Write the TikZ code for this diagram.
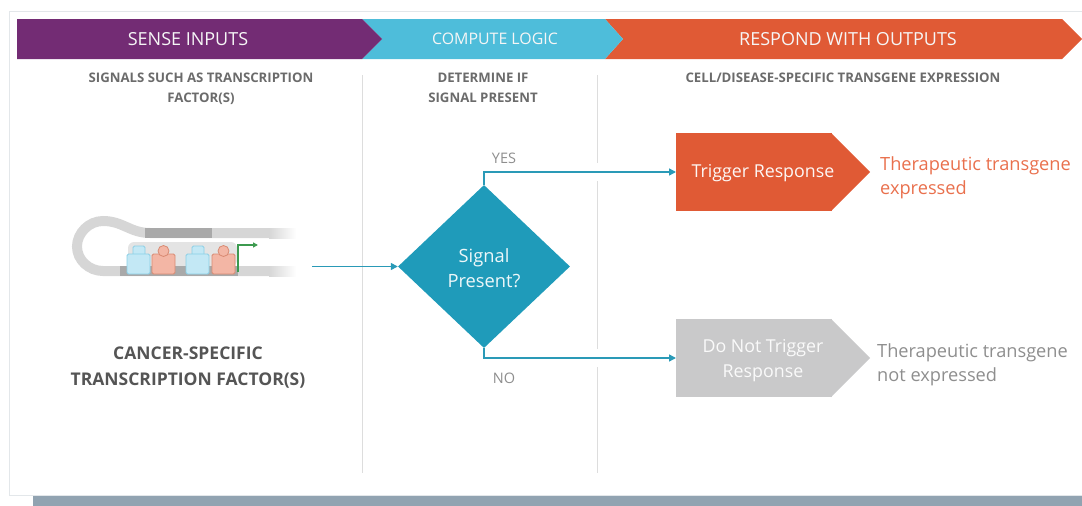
\documentclass[tikz,border=0pt]{standalone}
\usepackage{fontspec}
\setmainfont{Open Sans}
\usetikzlibrary{shapes.geometric,arrows.meta}
\definecolor{purp}{HTML}{732C74}
\definecolor{cyanH}{HTML}{4EBDDA}
\definecolor{orangeH}{HTML}{E05A35}
\definecolor{tealC}{HTML}{2A9AB7}
\definecolor{diaC}{HTML}{1F9BBA}
\definecolor{grayBox}{HTML}{C9C9CA}
\definecolor{orangeTxt}{HTML}{E9704D}
\definecolor{grayTxt}{HTML}{8E8E8E}
\definecolor{subTxt}{HTML}{6B6B6B}
\definecolor{darkTxt}{HTML}{555555}
\definecolor{divC}{HTML}{DDDDDD}
\definecolor{barGray}{HTML}{91A3B1}
\definecolor{borderC}{HTML}{E3E7EA}
\definecolor{strandC}{HTML}{D6D6D6}
\definecolor{strandD}{HTML}{A9A9A9}
\definecolor{platC}{HTML}{E4E4E4}
\definecolor{blueF}{HTML}{C3E8F5}
\definecolor{blueD}{HTML}{8ACFE6}
\definecolor{redF}{HTML}{F3B6A5}
\definecolor{redD}{HTML}{D98A72}
\definecolor{greenC}{HTML}{3C9A4F}
\tikzset{
  headtxt/.style={text=white!93!gray, font=\fontsize{18}{21}\selectfont, inner sep=0},
  subtxt/.style={text=subTxt, font=\bfseries\fontsize{13.2}{19.5}\selectfont, align=center, inner sep=0},
  divider/.style={draw=divC, line width=1},
  conn/.style={draw=tealC, line width=1.4, -{Triangle[length=7pt,width=7pt]}},
  lbl/.style={text=grayTxt, font=\fontsize{14.5}{17}\selectfont, inner sep=0},
  boxtxt/.style={font=\fontsize{17.8}{25}\selectfont, align=center, inner sep=0},
  sidetxt/.style={font=\fontsize{18.2}{24}\selectfont, align=left, inner sep=0, anchor=west},
  strand/.style={draw=strandC, line width=10},
  bluep/.style={fill=blueF, draw=blueD, line width=0.8, rounded corners=1.5},
  redp/.style={fill=redF, draw=redD, line width=0.8, rounded corners=1.5}
}
\begin{document}
\begin{tikzpicture}[x=1pt,y=-1pt]
\useasboundingbox (0,0) rectangle (1082,506);
% frame
\draw[borderC, line width=1] (1082,11) -- (9,11) -- (9,495) -- (1082,495);
\fill[barGray] (33,496) rectangle (1082,506);
% banners
\fill[orangeH] (605,19) -- (1062,19) -- (1082,39) -- (1062,59) -- (605,59) -- (623,39) -- cycle;
\fill[cyanH] (362,19) -- (605,19) -- (623,39) -- (605,59) -- (362,59) -- (382,39) -- cycle;
\fill[purp] (17,19) -- (362,19) -- (382,39) -- (362,59) -- (17,59) -- cycle;
\node[headtxt] (h1) at (188,39) {SENSE INPUTS};
\node[headtxt, font=\fontsize{15.9}{19}\selectfont] (h2) at (495,39) {COMPUTE LOGIC};
\node[headtxt] (h3) at (848,39) {RESPOND WITH OUTPUTS};
% subtitles
\node[subtxt, anchor=north] (s1) at (201,73) {SIGNALS SUCH AS TRANSCRIPTION\\FACTOR(S)};
\node[subtxt, anchor=north] (s2) at (483,73) {DETERMINE IF\\SIGNAL PRESENT};
\node[subtxt, anchor=north] (s3) at (843,73) {CELL/DISEASE-SPECIFIC TRANSGENE EXPRESSION};
% dividers
\draw[divider] (362,75) -- (362,473);
\draw[divider] (597,75) -- (597,163);
\draw[divider] (597,181) -- (597,349);
\draw[divider] (597,367) -- (597,473);
% DNA hairpin
\draw[strand] (270,233) -- (150,233) .. controls (130,233) and (123,221) .. (103,221)
  .. controls (89,221) and (77,233) .. (77,246.5)
  .. controls (77,260) and (89,271) .. (103,271) -- (270,271);
\shade[left color=strandC, right color=white] (269,228) rectangle (296,238);
\shade[left color=strandC, right color=white] (269,266) rectangle (296,276);
\fill[strandD] (145,228) rectangle (212,238);
\fill[platC, rounded corners=6] (128,266) -- (128,242) -- (237,242) -- (237,266) -- cycle;
\fill[strandD] (120,266) rectangle (238,276);
\draw[bluep] (133,246) rectangle (145,256);
\draw[bluep] (127,254) rectangle (150,274);
\draw[redp] (152,254) rectangle (175,274);
\draw[redp, rounded corners=0] (163.5,251) circle (5.5);
\draw[bluep] (192,246) rectangle (204,256);
\draw[bluep] (186,254) rectangle (209,274);
\draw[redp] (212,254) rectangle (235,274);
\draw[redp, rounded corners=0] (223.5,251) circle (5.5);
\draw[greenC, line width=1.3, -{Triangle[length=5pt,width=5pt]}] (238,272) -- (238,245) -- (258,245);
\node[text=darkTxt, font=\bfseries\fontsize{17.5}{26}\selectfont, align=center, inner sep=0] (tf) at (188,368) {CANCER-SPECIFIC\\TRANSCRIPTION FACTOR(S)};
% diamond and boxes
\node[diamond, fill=diaC, minimum width=172, minimum height=163, inner sep=0] (dia) at (484,266.5) {};
\node[text=white!92!diaC, font=\fontsize{18.3}{25}\selectfont, align=center, inner sep=0] (diat) at (484,268.5) {Signal\\Present?};
\node[fill=orangeH, minimum width=156, minimum height=78, inner sep=0, anchor=west] (trig) at (676,172) {};
\fill[orangeH] ([xshift=-1.5pt]trig.north east) -- (870,172) -- ([xshift=-1.5pt]trig.south east) -- cycle;
\node[boxtxt, text=white!95!orangeH] (trigt) at (763,173.5) {Trigger Response};
\node[fill=grayBox, minimum width=156, minimum height=78, inner sep=0, anchor=west] (notrig) at (676,358) {};
\fill[grayBox] ([xshift=-1.5pt]notrig.north east) -- (870,358) -- ([xshift=-1.5pt]notrig.south east) -- cycle;
\node[boxtxt, text=white!90!grayBox] (notrigt) at (763,360.5) {Do Not Trigger\\Response};
\node[sidetxt, text=orangeTxt] (yt) at (880,178) {Therapeutic transgene\\expressed};
\node[sidetxt, text=grayTxt] (nt) at (877,365) {Therapeutic transgene\\not expressed};
% connectors
\coordinate (inp) at (312,266.5);
\draw[conn] (inp) -- (dia.west);
\draw[conn] (dia.north) |- (trig.west);
\draw[conn] (dia.south) |- (notrig.west);
\node[lbl] (yes) at (504,158) {YES};
\node[lbl] (no) at (504,378) {NO};
\end{tikzpicture}
\end{document}
